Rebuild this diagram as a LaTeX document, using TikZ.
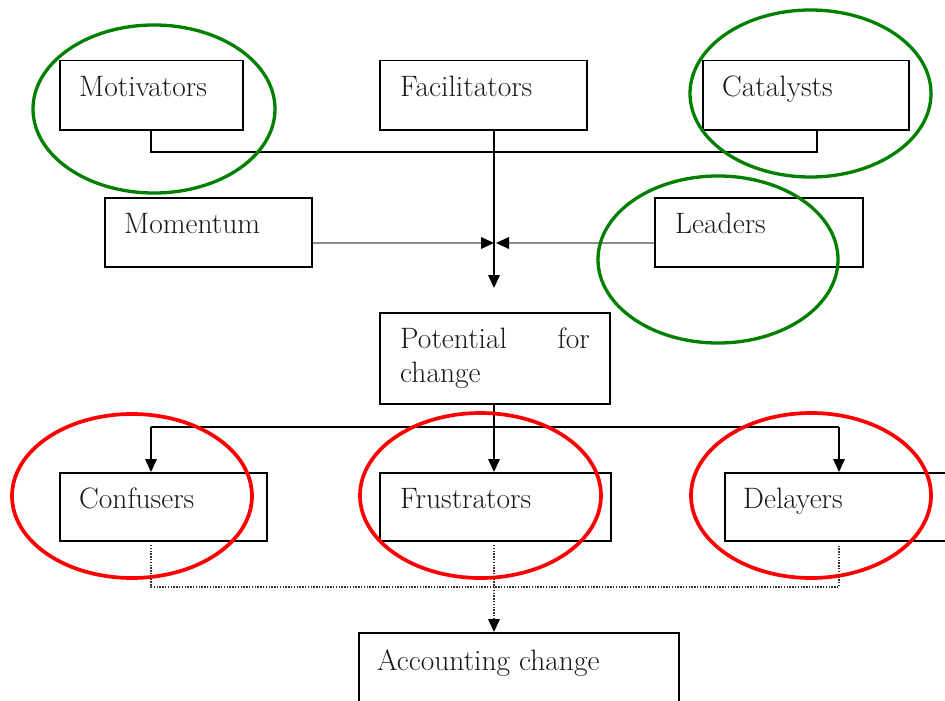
\documentclass[tikz,border=0pt]{standalone}
\usetikzlibrary{arrows.meta,calc}
\begin{document}
\begin{tikzpicture}[x=1pt,y=-1pt,
  box/.style={draw=black,line width=1.5pt,inner sep=0pt,anchor=north west},
  lbl/.style={inner sep=0pt,anchor=base west,font=\fontsize{29.5}{34}\selectfont,text=black!90},
  conn/.style={draw=black,line width=1.4pt},
  grayconn/.style={draw=black!45,line width=2.4pt},
  dotconn/.style={draw=black!80,line width=1.3pt,dash pattern=on 1.4pt off 1.4pt},
  tip/.style={-{Triangle[length=13pt,width=12pt,color=black,line width=0pt,sep=0pt]}},
  greenring/.style={draw=green!50!black,line width=3.3pt},
  redring/.style={draw=red,line width=3.7pt}]
\useasboundingbox[fill=white] (0,0) rectangle (945,701);
% boxes
\node[box,minimum width=183pt,minimum height=69pt] (mot) at (59,60) {};
\node[box,minimum width=207pt,minimum height=69pt] (fac) at (379,60) {};
\node[box,minimum width=206pt,minimum height=69pt] (cat) at (702,60) {};
\node[box,minimum width=207pt,minimum height=69pt] (mom) at (104,197) {};
\node[box,minimum width=208pt,minimum height=69pt] (lea) at (654,197) {};
\node[box,minimum width=230pt,minimum height=91pt] (pot) at (379,312) {};
\node[box,minimum width=207pt,minimum height=68pt] (con) at (59,472) {};
\node[box,minimum width=231pt,minimum height=68pt] (fru) at (379,472) {};
\node[box,minimum width=240pt,minimum height=68pt] (del) at (724,472) {};
\node[box,minimum width=320pt,minimum height=90pt] (acc) at (358,632) {};
% labels
\node[lbl] (tmot) at (79,96) {Motivators};
\node[lbl] (tfac) at (400,96) {Facilitators};
\node[lbl] (tcat) at (722,96) {Catalysts};
\node[lbl] (tmom) at (124,233) {Momentum};
\node[lbl] (tlea) at (675,233) {Leaders};
\node[lbl] (tpot) at (400,348) {Potential};
\node[lbl,anchor=base east] (tfor) at (590,348) {for};
\node[lbl] (tcha) at (400,382) {change};
\node[lbl] (tcon) at (79,508) {Confusers};
\node[lbl] (tfru) at (400,508) {Frustrators};
\node[lbl] (tdel) at (743,508) {Delayers};
\node[lbl] (tacc) at (377,670) {Accounting change};
% coordinates
\coordinate (hub) at (494,243);
\coordinate (hubdown) at (494,288);
\coordinate (facout) at (494,129);
\coordinate (motout) at (151,129);
\coordinate (catout) at (817,129);
\coordinate (potout) at (494,403);
\coordinate (conin) at (151,472);
\coordinate (fruin) at (494,472);
\coordinate (delin) at (839,472);
\coordinate (conout) at (151,545);
\coordinate (fruout) at (494,545);
\coordinate (delout) at (839,545);
\coordinate (accin) at (494,632);
% connectors
\draw[conn] (motout) |- (817,152) -- (catout);
\draw[conn,tip] (facout) -- (hubdown);
\draw[grayconn,tip] (mom.east |- hub) -- ($(hub)+(0,0)$);
\draw[grayconn,tip] (lea.west |- hub) -- ($(hub)+(2,0)$);
\draw[conn,tip] (potout) -- (fruin);
\draw[conn] (151,427) -- (839,427);
\draw[conn,tip] (151,427) -- (conin);
\draw[conn,tip] (839,427) -- (delin);
\draw[dotconn] (conout) |- (839,587) -- (delout);
\draw[dotconn,tip] (fruout) -- (accin);
% rings
\draw[greenring] (154,109) ellipse [x radius=121, y radius=84];
\draw[greenring] (810.5,93.5) ellipse [x radius=120.5, y radius=83.5];
\draw[greenring] (718,259.5) ellipse [x radius=120, y radius=83.5];
\draw[redring] (132,496) ellipse [x radius=120, y radius=82];
\draw[redring] (480.5,495.5) ellipse [x radius=120.5, y radius=82.5];
\draw[redring] (811,495.5) ellipse [x radius=120, y radius=82.5];
\end{tikzpicture}
\end{document}
